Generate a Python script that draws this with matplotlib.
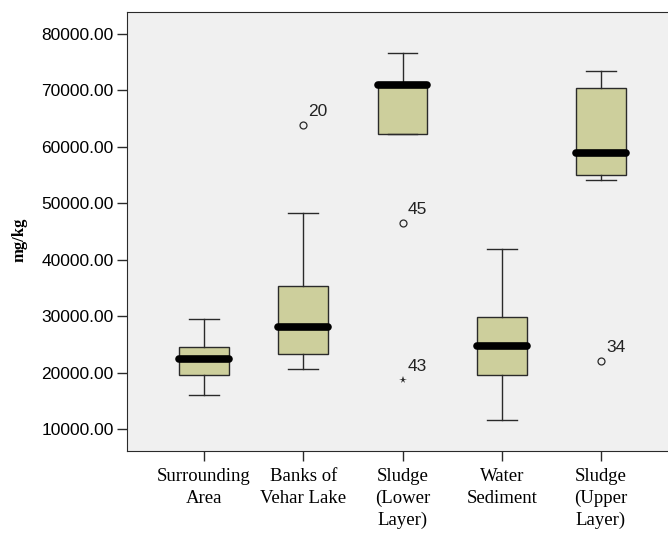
import matplotlib.pyplot as plt
from matplotlib.ticker import FormatStrFormatter

# categories and five-number summaries (mg/kg)
groups = ["Surrounding\nArea", "Banks of\nVehar Lake", "Sludge\n(Lower\nLayer)",
          "Water\nSediment", "Sludge\n(Upper\nLayer)"]
whis_lo = [16150, 20700, 62300, 11600, 54100]
q1 = [19570, 23400, 62300, 19570, 55050]
med = [22500, 28200, 70900, 24800, 58900]
q3 = [24600, 35450, 71000, 29850, 70400]
whis_hi = [29600, 48300, 76600, 41900, 73400]

# outliers: (group index, value, case label, marker)
out_grp = [1, 2, 2, 4]
out_val = [63800, 46600, 18700, 22100]
out_lbl = ["20", "45", "43", "34"]
out_mrk = ["o", "o", "*", "o"]

stats = []
for i, g in enumerate(groups):
    stats.append(dict(label=g, whislo=whis_lo[i], q1=q1[i], med=med[i],
                      q3=q3[i], whishi=whis_hi[i], fliers=[]))

fig = plt.figure(figsize=(6.68, 5.35), dpi=100)
ax = fig.add_axes([127 / 668, 1 - 450.7 / 535, 1 - 127 / 668, (450.7 - 12.3) / 535])
ax.set_facecolor("#f0f0f0")

pos = list(range(1, len(groups) + 1))
ax.bxp(stats, positions=pos, widths=0.5, patch_artist=True, showfliers=False,
       boxprops=dict(facecolor="#cdcf9c", edgecolor="#2a2a2a", linewidth=1.0),
       medianprops=dict(color="black", linewidth=5.5, solid_capstyle="round"),
       whiskerprops=dict(color="#2a2a2a", linewidth=1.0),
       capprops=dict(color="#2a2a2a", linewidth=1.0), capwidths=0.3)

for g, v, lab, m in zip(out_grp, out_val, out_lbl, out_mrk):
    x = pos[g]
    if m == "o":
        ax.plot(x, v, marker="o", ms=5, mfc="none", mec="#2a2a2a", mew=0.9)
    else:
        ax.plot(x, v, marker="*", ms=5.5, color="#2a2a2a", mew=0)
    ax.annotate(lab, (x, v), xytext=(3.5, 6.5), textcoords="offset points",
                va="baseline", fontsize=12.5, family="Liberation Sans", color="#222222")

ax.set_xlim(0.224, 5.675)
ax.set_ylim(6210, 83840)
ax.set_yticks([10000, 20000, 30000, 40000, 50000, 60000, 70000, 80000])
ax.yaxis.set_major_formatter(FormatStrFormatter("%.2f"))
ax.set_xticks(pos)
ax.set_xticklabels(groups, family="Liberation Serif", fontsize=13.5, linespacing=1.35)
for t in ax.get_yticklabels():
    t.set_family("Liberation Sans")
    t.set_fontsize(12.5)
ax.tick_params(axis="both", direction="out", length=7.5, width=1, color="#2a2a2a")
ax.tick_params(axis="x", pad=5)
ax.tick_params(axis="y", pad=2)
ax.spines["right"].set_visible(False)
for s in ["left", "top", "bottom"]:
    ax.spines[s].set_color("#2a2a2a")
ax.set_ylabel("mg/kg", family="Liberation Serif", fontsize=12, fontweight="bold")
ax.yaxis.set_label_coords(-0.183, 0.48)

fig.savefig("out.png", dpi=100)
